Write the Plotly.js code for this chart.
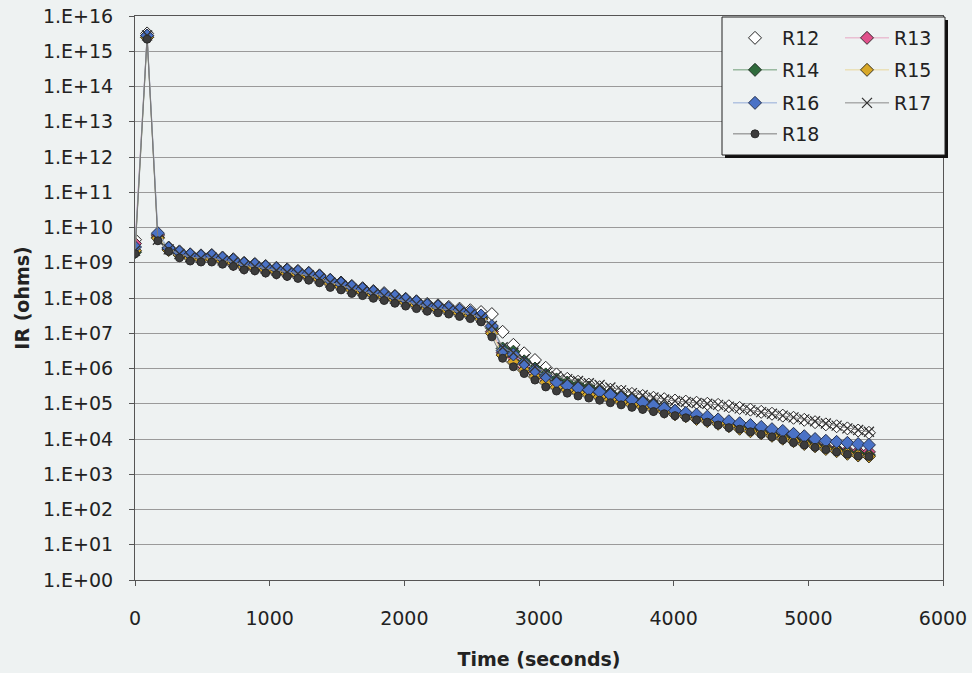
<!DOCTYPE html>
<html>
<head>
<meta charset="utf-8">
<script src="https://cdn.plot.ly/plotly-3.0.1.min.js"></script>
<style>
  html, body { margin: 0; padding: 0; background: #eef2f2; }
  #chart { width: 972px; height: 673px; }
</style>
</head>
<body>
<div id="chart"></div>
<script>
// ---- data ----
const seriesNames = ['R12', 'R13', 'R14', 'R15', 'R16', 'R17', 'R18'];

const time = [0, 90, 170, 250, 330, 410, 490, 570, 650, 730, 810, 890, 970, 1050, 1130, 1210, 1290, 1370,
  1450, 1530, 1610, 1690, 1770, 1850, 1930, 2010, 2090, 2170, 2250, 2330, 2410, 2490, 2570, 2650, 2730,
  2810, 2890, 2970, 3050, 3130, 3210, 3290, 3370, 3450, 3530, 3610, 3690, 3770, 3850, 3930, 4010, 4090,
  4170, 4250, 4330, 4410, 4490, 4570, 4650, 4730, 4810, 4890, 4970, 5050, 5130, 5210, 5290, 5370, 5450];

const r12 = [4.5e9, 3.2e15, 6.3e9, 2.7e9, 2.1e9, 1.74e9, 1.62e9, 1.66e9, 1.41e9, 1.26e9, 1.0e9, 9.3e8, 8.1e8,
  7.2e8, 6.5e8, 5.9e8, 5.2e8, 4.4e8, 3.3e8, 2.75e8, 2.2e8, 1.9e8, 1.58e8, 1.38e8, 1.15e8, 9.5e7, 8.1e7,
  6.8e7, 6.2e7, 5.6e7, 5.0e7, 4.5e7, 4.0e7, 3.5e7, 1.1e7, 4.7e6, 2.7e6, 1.74e6, 1.05e6, 6.8e5, 5.1e5,
  4.2e5, 3.5e5, 2.95e5, 2.5e5, 2.2e5, 1.9e5, 1.66e5, 1.48e5, 1.35e5, 1.23e5, 1.15e5, 1.07e5, 1.0e5,
  9.3e4, 8.5e4, 7.6e4, 6.8e4, 5.9e4, 5.2e4, 4.6e4, 4.0e4, 3.5e4, 3.0e4, 2.6e4, 2.3e4, 2.0e4, 1.74e4, 1.5e4];

const r13 = [3.5e9, 2.8e15, 5.8e9, 2.4e9, 1.8e9, 1.48e9, 1.35e9, 1.35e9, 1.12e9, 9.1e8, 7.2e8, 6.8e8, 5.9e8,
  5.2e8, 4.7e8, 4.3e8, 3.8e8, 3.2e8, 2.5e8, 2.1e8, 1.74e8, 1.58e8, 1.32e8, 1.15e8, 9.5e7, 8.1e7, 6.9e7,
  5.6e7, 5.1e7, 4.7e7, 4.0e7, 3.5e7, 2.6e7, 1.12e7, 2.8e6, 2.0e6, 1.12e6, 7.2e5, 5.0e5, 3.6e5, 2.95e5,
  2.5e5, 2.1e5, 1.8e5, 1.55e5, 1.32e5, 1.12e5, 9.5e4, 7.9e4, 6.6e4, 5.6e4, 4.8e4, 4.1e4, 3.5e4,
  2.9e4, 2.4e4, 2.1e4, 1.8e4, 1.6e4, 1.35e4, 1.15e4, 9.8e3, 8.3e3, 7.1e3, 6.0e3, 5.2e3, 4.7e3, 4.4e3, 4.3e3];

const r14 = [2.0e9, 2.5e15, 5.2e9, 2.6e9, 1.9e9, 1.6e9, 1.45e9, 1.45e9, 1.26e9, 1.12e9, 9.1e8, 8.3e8, 7.4e8,
  6.5e8, 5.9e8, 5.2e8, 4.6e8, 3.8e8, 3.0e8, 2.5e8, 2.0e8, 1.7e8, 1.45e8, 1.23e8, 1.05e8, 8.7e7, 7.4e7,
  6.3e7, 5.6e7, 5.0e7, 4.4e7, 3.7e7, 2.8e7, 1.4e7, 3.7e6, 3.0e6, 1.6e6, 1.0e6, 6.8e5, 4.9e5, 4.0e5,
  3.4e5, 2.9e5, 2.4e5, 2.0e5, 1.66e5, 1.38e5, 1.15e5, 9.3e4, 7.6e4, 6.3e4, 5.2e4, 4.4e4, 3.6e4,
  3.0e4, 2.5e4, 2.1e4, 1.8e4, 1.55e4, 1.3e4, 1.1e4, 9.3e3, 7.9e3, 6.6e3, 5.6e3, 4.8e3, 4.2e3, 3.8e3, 3.5e3];

const r15 = [2.2e9, 2.5e15, 5.0e9, 2.3e9, 1.66e9, 1.35e9, 1.26e9, 1.29e9, 1.1e9, 9.8e8, 7.8e8, 7.2e8, 6.3e8,
  5.6e8, 5.0e8, 4.6e8, 4.1e8, 3.4e8, 2.6e8, 2.1e8, 1.7e8, 1.48e8, 1.23e8, 1.07e8, 8.9e7, 7.4e7, 6.3e7,
  5.1e7, 4.7e7, 4.3e7, 3.7e7, 3.2e7, 2.5e7, 1.0e7, 2.4e6, 1.5e6, 8.9e5, 5.8e5, 4.0e5, 2.95e5, 2.45e5,
  2.1e5, 1.8e5, 1.55e5, 1.32e5, 1.12e5, 9.5e4, 8.1e4, 6.9e4, 5.9e4, 5.0e4, 4.4e4, 3.7e4, 3.2e4,
  2.7e4, 2.3e4, 1.95e4, 1.66e4, 1.45e4, 1.23e4, 1.02e4, 8.7e3, 7.2e3, 6.2e3, 5.2e3, 4.5e3, 3.8e3, 3.4e3, 3.2e3];

const r16 = [2.8e9, 2.8e15, 6.9e9, 2.6e9, 2.0e9, 1.7e9, 1.55e9, 1.6e9, 1.35e9, 1.2e9, 9.5e8, 8.9e8, 7.8e8,
  6.9e8, 6.2e8, 5.6e8, 5.0e8, 4.2e8, 3.2e8, 2.6e8, 2.1e8, 1.8e8, 1.5e8, 1.3e8, 1.1e8, 9.1e7, 7.8e7,
  6.3e7, 5.8e7, 5.2e7, 4.6e7, 4.0e7, 3.2e7, 1.6e7, 3.2e6, 2.5e6, 1.4e6, 8.9e5, 6.0e5, 4.2e5, 3.3e5,
  2.8e5, 2.5e5, 2.2e5, 1.8e5, 1.5e5, 1.3e5, 1.1e5, 8.9e4, 7.4e4, 6.3e4, 5.5e4, 4.9e4, 4.3e4,
  3.6e4, 3.2e4, 2.8e4, 2.5e4, 2.2e4, 1.9e4, 1.7e4, 1.4e4, 1.2e4, 1.0e4, 8.9e3, 8.3e3, 7.8e3, 7.2e3, 6.8e3];

const r17 = [2.2e9, 2.8e15, 4.5e9, 2.4e9, 1.78e9, 1.45e9, 1.35e9, 1.38e9, 1.17e9, 1.05e9, 8.3e8, 7.8e8, 6.8e8,
  6.0e8, 5.4e8, 4.9e8, 4.4e8, 3.6e8, 2.75e8, 2.3e8, 1.8e8, 1.58e8, 1.32e8, 1.15e8, 9.5e7, 7.9e7, 6.8e7,
  5.5e7, 5.0e7, 4.6e7, 4.0e7, 3.5e7, 2.8e7, 1.6e7, 4.0e6, 2.8e6, 1.8e6, 1.12e6, 7.9e5, 6.0e5, 5.0e5,
  4.4e5, 3.8e5, 3.4e5, 2.9e5, 2.4e5, 2.0e5, 1.74e5, 1.5e5, 1.32e5, 1.2e5, 1.12e5, 1.05e5, 1.0e5,
  9.3e4, 8.3e4, 7.4e4, 6.6e4, 5.8e4, 5.2e4, 4.6e4, 4.1e4, 3.6e4, 3.2e4, 2.75e4, 2.4e4, 2.0e4, 1.8e4, 1.6e4];

const r18 = [1.8e9, 2.2e15, 4.2e9, 2.1e9, 1.38e9, 1.12e9, 1.05e9, 1.05e9, 9.1e8, 7.9e8, 6.3e8, 5.9e8, 5.1e8,
  4.6e8, 4.1e8, 3.6e8, 3.2e8, 2.7e8, 2.0e8, 1.7e8, 1.35e8, 1.17e8, 9.8e7, 8.5e7, 7.1e7, 5.9e7, 5.0e7,
  4.2e7, 3.8e7, 3.5e7, 3.0e7, 2.6e7, 2.1e7, 7.9e6, 1.95e6, 1.12e6, 7.2e5, 4.7e5, 3.0e5, 2.3e5, 2.0e5,
  1.66e5, 1.45e5, 1.26e5, 1.07e5, 9.3e4, 7.9e4, 6.9e4, 6.0e4, 5.2e4, 4.6e4, 4.0e4, 3.5e4, 3.0e4,
  2.5e4, 2.1e4, 1.9e4, 1.6e4, 1.35e4, 1.15e4, 9.5e3, 7.9e3, 6.8e3, 5.8e3, 5.0e3, 4.3e3, 3.7e3, 3.3e3, 3.2e3];

const yTickVals = [1e0, 1e1, 1e2, 1e3, 1e4, 1e5, 1e6, 1e7, 1e8, 1e9, 1e10, 1e11, 1e12, 1e13, 1e14, 1e15, 1e16];
const yTickText = ['1.E+00', '1.E+01', '1.E+02', '1.E+03', '1.E+04', '1.E+05', '1.E+06', '1.E+07', '1.E+08',
  '1.E+09', '1.E+10', '1.E+11', '1.E+12', '1.E+13', '1.E+14', '1.E+15', '1.E+16'];
const xTickVals = [0, 1000, 2000, 3000, 4000, 5000, 6000];

// ---- styles ----
const FONT = 'DejaVu Sans, Liberation Sans, Arial, sans-serif';
const BG = '#eef2f2';
const values = [r12, r13, r14, r15, r16, r17, r18];
const styles = [
  { mode: 'markers', symbol: 'diamond', color: '#ffffff', size: 10, mline: '#222222', line: '#ffffff' },
  { mode: 'lines+markers', symbol: 'diamond', color: '#e0508a', size: 10, mline: '#3a2a30', line: '#e7a6c3' },
  { mode: 'lines+markers', symbol: 'diamond', color: '#2f6b3c', size: 10, mline: '#1f2f22', line: '#6f9c76' },
  { mode: 'lines+markers', symbol: 'diamond', color: '#d8a828', size: 10, mline: '#3a3320', line: '#e9d79a' },
  { mode: 'lines+markers', symbol: 'diamond', color: '#4a72c6', size: 10, mline: '#25304a', line: '#93acd8' },
  { mode: 'lines+markers', symbol: 'x-thin', color: '#333333', size: 10, mline: '#333333', line: '#8a8a8a' },
  { mode: 'lines+markers', symbol: 'circle', color: '#3c3c3c', size: 8, mline: '#2a2a2a', line: '#7a7a7a' }
];

// plot area in pixels (for placing legend entries)
const L = 135, R = 943, T = 16, B = 580;
const px2x = p => (p - L) / (R - L);
const px2y = p => (B - p) / (B - T);
const legendPos = [[728, 38], [840, 38], [728, 70], [840, 70], [728, 103], [840, 103], [728, 134]];

const traces = seriesNames.map((name, i) => {
  const s = styles[i];
  const isX = s.symbol === 'x-thin';
  return {
    type: 'scatter',
    name: name,
    x: time,
    y: values[i],
    mode: s.mode,
    legend: i === 0 ? 'legend' : 'legend' + (i + 1),
    line: { color: s.line, width: 1 },
    marker: {
      symbol: s.symbol,
      size: s.size,
      color: s.color,
      line: { color: s.mline, width: isX ? 1.3 : 1 }
    }
  };
});

const layout = {
  width: 972,
  height: 673,
  margin: { l: L, r: 972 - R, t: T, b: 673 - B, pad: 0 },
  paper_bgcolor: BG,
  plot_bgcolor: BG,
  font: { family: FONT, size: 19, color: '#222222' },
  showlegend: true,
  xaxis: {
    range: [0, 6000],
    tickmode: 'array',
    tickvals: xTickVals,
    showgrid: false,
    zeroline: false,
    showline: true,
    mirror: true,
    linecolor: '#555555',
    linewidth: 1,
    ticks: 'outside',
    ticklen: 5,
    tickcolor: '#555555',
    ticklabelstandoff: 16,
    tickfont: { family: FONT, size: 19, color: '#222222' },
    title: { text: 'Time (seconds)', font: { family: FONT, size: 19, weight: 'bold', color: '#222222' }, standoff: 24 }
  },
  yaxis: {
    type: 'log',
    range: [0, 16],
    tickmode: 'array',
    tickvals: yTickVals,
    ticktext: yTickText,
    showgrid: true,
    gridcolor: '#9a9a9a',
    gridwidth: 1,
    zeroline: false,
    showline: true,
    mirror: true,
    linecolor: '#555555',
    linewidth: 1,
    ticks: 'outside',
    ticklen: 5,
    tickcolor: '#555555',
    ticklabelstandoff: 12,
    tickfont: { family: FONT, size: 19, color: '#222222' },
    title: { text: 'IR (ohms)', font: { family: FONT, size: 19, weight: 'bold', color: '#222222' }, standoff: 8 }
  },
  shapes: [
    { type: 'rect', xref: 'paper', yref: 'paper', layer: 'above',
      x0: px2x(725), x1: px2x(948), y0: px2y(158), y1: px2y(20),
      fillcolor: '#111111', line: { width: 0 } },
    { type: 'rect', xref: 'paper', yref: 'paper', layer: 'above',
      x0: px2x(722), x1: px2x(945), y0: px2y(155), y1: px2y(17),
      fillcolor: BG, line: { color: '#222222', width: 1 } }
  ]
};

legendPos.forEach((p, i) => {
  const key = i === 0 ? 'legend' : 'legend' + (i + 1);
  layout[key] = {
    x: px2x(p[0]),
    y: px2y(p[1]),
    xanchor: 'left',
    yanchor: 'middle',
    orientation: 'h',
    bgcolor: 'rgba(0,0,0,0)',
    borderwidth: 0,
    itemwidth: 44,
    font: { family: FONT, size: 19, color: '#222222' }
  };
});

Plotly.newPlot('chart', traces, layout, { displayModeBar: false, staticPlot: true });
</script>
</body>
</html>
